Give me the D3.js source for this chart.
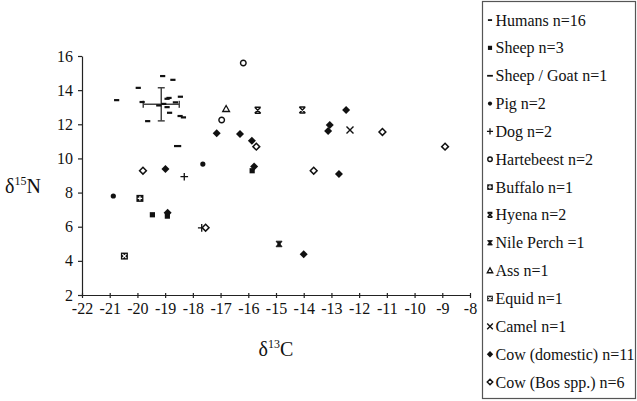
<!DOCTYPE html>
<html><head><meta charset="utf-8">
<script src="https://cdn.jsdelivr.net/npm/d3@7"></script>
<style>
body{margin:0;background:#fff;}
svg{display:block;}
svg text{font-family:"Liberation Serif","Times New Roman",serif !important;}
</style></head>
<body><svg id="c" width="637" height="401"></svg>
<script>
// ---- data (δ13C, δ15N) ----
const humans = [[-20.75,13.42],[-19.97,14.14],[-19.09,14.83],[-18.72,14.61],[-19.83,13.31],[-19.63,12.19],[-19.23,13.11],[-18.93,13.50],[-18.86,13.55],[-18.93,13.01],[-18.84,12.68],[-18.63,13.29],[-18.45,13.62],[-18.46,12.49],[-18.34,12.41],[-19.05,13.20]];
const sheep = [[-19.46,6.70],[-18.92,6.62],[-15.86,9.28]];
const sheepGoat = [[-18.55,10.73]];
const pig = [[-20.87,7.80],[-17.64,9.67]];
const dog = [[-18.31,8.93],[-17.68,5.93]];
const hartebeest = [[-16.18,15.59],[-16.96,12.25]];
const buffalo = [[-19.91,7.66]];
const hyena = [[-15.66,12.82],[-14.05,12.84]];
const nilePerch = [[-14.89,4.99]];
const ass = [[-16.80,12.90]];
const equid = [[-20.47,4.28]];
const camel = [[-12.33,11.67]];
const cowDomestic = [[-17.14,11.47],[-16.30,11.43],[-15.87,11.04],[-12.47,12.84],[-13.06,11.96],[-13.12,11.61],[-12.73,9.09],[-14.00,4.38],[-18.99,9.38],[-18.91,6.82],[-15.79,9.52]];
const cowBos = [[-19.80,9.28],[-17.54,5.94],[-15.71,10.69],[-11.16,11.55],[-8.90,10.69],[-13.64,9.28]];
// human mean and SD
const humanMean = [-19.14, 13.17];
const humanSD = [0.65, 0.97];
const xTicks = [-22,-21,-20,-19,-18,-17,-16,-15,-14,-13,-12,-11,-10,-9,-8];
const yTicks = [2,4,6,8,10,12,14,16];
const legendLabels = ["Humans n=16","Sheep n=3","Sheep / Goat n=1","Pig n=2","Dog n=2","Hartebeest n=2","Buffalo n=1","Hyena n=2","Nile Perch =1","Ass n=1","Equid n=1","Camel n=1","Cow (domestic) n=11","Cow (Bos spp.) n=6"];

const series = [
 {data:humans, type:"dash"},
 {data:sheep, type:"square"},
 {data:sheepGoat, type:"longdash"},
 {data:pig, type:"dot"},
 {data:dog, type:"plus"},
 {data:hartebeest, type:"ocircle"},
 {data:buffalo, type:"sqplus"},
 {data:hyena, type:"hyena"},
 {data:nilePerch, type:"perch"},
 {data:ass, type:"triangle"},
 {data:equid, type:"sqx"},
 {data:camel, type:"cross"},
 {data:cowDomestic, type:"diamond"},
 {data:cowBos, type:"odiamond"}
];

const svg = d3.select("#c");
const x = d3.scaleLinear().domain([-22,-8]).range([82,470]);
const y = d3.scaleLinear().domain([2,16]).range([295,56]);
const FF = "'Liberation Serif','Times New Roman',serif";

function marker(g, type, k){
  const c = "#111";
  switch(type){
    case "dash": g.append("rect").attr("x",-2.6*k).attr("y",-1*k).attr("width",5.2*k).attr("height",2.2*k).attr("fill",c); break;
    case "longdash": g.append("rect").attr("x",-3.6*k).attr("y",-1*k).attr("width",7.2*k).attr("height",2.2*k).attr("fill",c); break;
    case "square": g.append("rect").attr("x",-2.6*k).attr("y",-2.6*k).attr("width",5.2*k).attr("height",5.2*k).attr("fill",c); break;
    case "dot": g.append("circle").attr("r",2.6*k).attr("fill",c); break;
    case "plus": g.append("path").attr("d",`M${-3.8*k},0H${3.8*k}M0,${-3.8*k}V${3.8*k}`).attr("stroke",c).attr("stroke-width",1.3); break;
    case "ocircle": g.append("circle").attr("r",2.8*k).attr("fill","#fff").attr("stroke",c).attr("stroke-width",1.4); break;
    case "sqplus":
      g.append("rect").attr("x",-3.5*k).attr("y",-3.5*k).attr("width",7*k).attr("height",7*k).attr("fill",c);
      g.append("path").attr("d",`M${-2.2*k},0H${2.2*k}M0,${-2.2*k}V${2.2*k}`).attr("stroke","#fff").attr("stroke-width",1.3); break;
    case "sqx":
      g.append("rect").attr("x",-3.5*k).attr("y",-3.5*k).attr("width",7*k).attr("height",7*k).attr("fill",c);
      g.append("path").attr("d",`M${-2*k},${-2*k}L${2*k},${2*k}M${-2*k},${2*k}L${2*k},${-2*k}`).attr("stroke","#fff").attr("stroke-width",1.2); break;
    case "hyena":
      g.append("path").attr("d",`M${-3*k},${-3*k}L${3*k},${3*k}M${-3*k},${3*k}L${3*k},${-3*k}M${-3*k},${-3*k}H${3*k}M${-3*k},${3*k}H${3*k}`).attr("stroke",c).attr("stroke-width",1.4); break;
    case "perch":
      g.append("path").attr("d",`M${-3*k},${-2.8*k}H${3*k}L${1*k},0L${3*k},${2.8*k}H${-3*k}L${-1*k},0Z`).attr("fill",c).attr("stroke",c).attr("stroke-width",0.8); break;
    case "triangle":
      g.append("path").attr("d",`M0,${-3.4*k}L${3.4*k},${2.6*k}H${-3.4*k}Z`).attr("fill","#fff").attr("stroke",c).attr("stroke-width",1.3); break;
    case "cross":
      g.append("path").attr("d",`M${-3.5*k},${-3.5*k}L${3.5*k},${3.5*k}M${-3.5*k},${3.5*k}L${3.5*k},${-3.5*k}`).attr("stroke",c).attr("stroke-width",1.4); break;
    case "diamond":
      g.append("path").attr("d",`M0,${-4*k}L${4*k},0L0,${4*k}L${-4*k},0Z`).attr("fill",c); break;
    case "odiamond":
      g.append("path").attr("d",`M0,${-3.4*k}L${3.4*k},0L0,${3.4*k}L${-3.4*k},0Z`).attr("fill","#fff").attr("stroke",c).attr("stroke-width",1.5); break;
  }
}

// axes
const xAxis = d3.axisBottom(x).tickValues(xTicks).tickFormat(d=>String(d)).tickSizeInner(4).tickSizeOuter(0).tickPadding(4);
const gx = svg.append("g").attr("transform",`translate(0,${y(2)})`).call(xAxis);
const yAxis = d3.axisLeft(y).tickValues(yTicks).tickFormat(d=>String(d)).tickSizeInner(4).tickSizeOuter(0).tickPadding(5);
const gy = svg.append("g").attr("transform",`translate(${x(-22)},0)`).call(yAxis);
[gx,gy].forEach(g=>{
  g.attr("font-family",FF);
  g.selectAll("path.domain").attr("stroke","#222").attr("stroke-width",1.2);
  g.selectAll(".tick line").attr("stroke","#222").attr("stroke-width",1.2);
  g.selectAll(".tick text").style("font-family",FF).attr("font-size",16).attr("fill","#111");
});
gx.selectAll(".tick line").attr("y1",-2).attr("y2",3);

// axis titles
const xt = svg.append("text").attr("x",276).attr("y",356).attr("text-anchor","middle").attr("font-size",20).attr("fill","#111").style("font-family",FF);
xt.append("tspan").text("δ");
xt.append("tspan").attr("font-size",12).attr("dy",-8).text("13");
xt.append("tspan").attr("dy",8).text("C");
const yt = svg.append("text").attr("x",5).attr("y",193).attr("font-size",20).attr("fill","#111").style("font-family",FF);
yt.append("tspan").text("δ");
yt.append("tspan").attr("font-size",12).attr("dy",-8).text("15");
yt.append("tspan").attr("dy",8).text("N");

// error bars for human mean
const eb = svg.append("g").attr("stroke","#444").attr("stroke-width",1.5);
const mx = x(humanMean[0]), my = y(humanMean[1]);
const xl = x(humanMean[0]-humanSD[0]), xr = x(humanMean[0]+humanSD[0]);
const yu = y(humanMean[1]+humanSD[1]), yd = y(humanMean[1]-humanSD[1]);
eb.append("line").attr("x1",xl).attr("x2",xr).attr("y1",my).attr("y2",my);
eb.append("line").attr("x1",mx).attr("x2",mx).attr("y1",yu).attr("y2",yd);
eb.append("line").attr("x1",xl).attr("x2",xl).attr("y1",my-3.5).attr("y2",my+3.5);
eb.append("line").attr("x1",xr).attr("x2",xr).attr("y1",my-3.5).attr("y2",my+3.5);
eb.append("line").attr("x1",mx-3.5).attr("x2",mx+3.5).attr("y1",yu).attr("y2",yu);
eb.append("line").attr("x1",mx-3.5).attr("x2",mx+3.5).attr("y1",yd).attr("y2",yd);

// points
series.forEach(s=>{
  s.data.forEach(d=>{
    const g = svg.append("g").attr("transform",`translate(${x(d[0])},${y(d[1])})`);
    marker(g, s.type, 1);
  });
});

// legend
svg.append("rect").attr("x",482.5).attr("y",1.5).attr("width",153).attr("height",397).attr("fill","#fff").attr("stroke","#555").attr("stroke-width",1.2);
series.forEach((s,i)=>{
  const yy = 20 + i*27.85;
  const g = svg.append("g").attr("transform",`translate(490,${yy})`);
  marker(g, s.type, 0.8);
  svg.append("text").attr("x",495.5).attr("y",yy+5.5).attr("font-size",16).attr("fill","#111").style("font-family",FF).text(legendLabels[i]);
});
</script></body></html>
